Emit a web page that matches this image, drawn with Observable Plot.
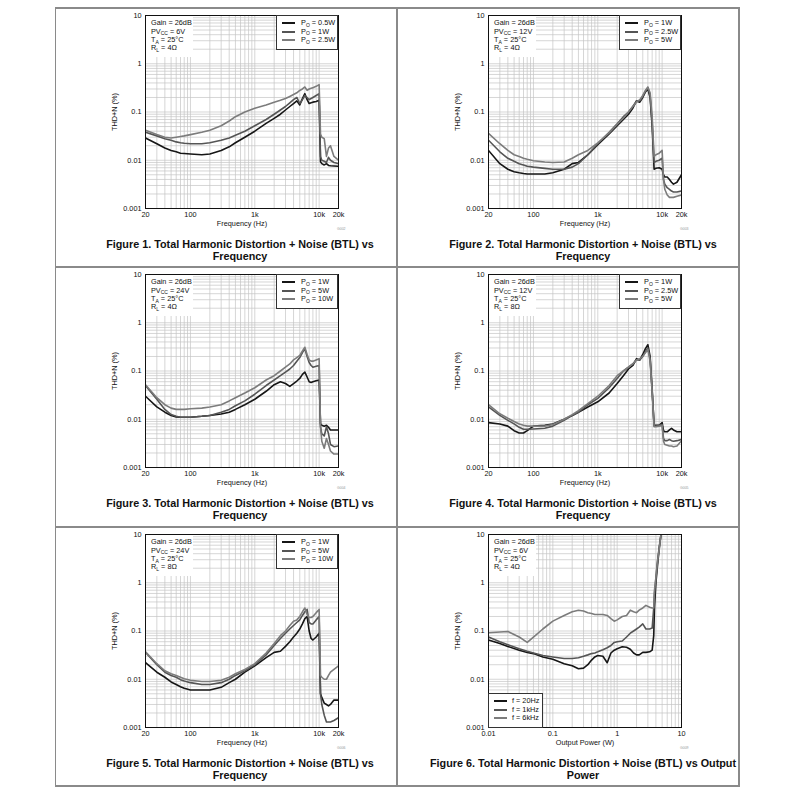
<!DOCTYPE html>
<html><head><meta charset="utf-8">
<script src="https://cdn.jsdelivr.net/npm/d3@7"></script>
<script src="https://cdn.jsdelivr.net/npm/@observablehq/plot@0.6"></script>
<style>
html,body{margin:0;padding:0;background:#fff;}
#root{position:relative;width:800px;height:800px;font-family:"Liberation Sans",Arial,Helvetica,sans-serif;color:#111;overflow:hidden}
.cell{position:absolute;width:343px;height:259px}
.cell svg{position:absolute;left:0;top:0}
.ann{position:absolute;background:#fff}
.leg{position:absolute;background:#fff;border:1px solid #333;box-sizing:border-box}
.row{position:absolute;white-space:nowrap;font-size:7.3px;line-height:8px;height:8px;color:#111}
.row sub{font-size:5px;vertical-align:baseline;position:relative;top:1.6px}
.sw{position:absolute;height:2px}
.cap{position:absolute;width:440px;text-align:center;font-weight:bold;font-size:10.8px;line-height:12px;white-space:nowrap;color:#111}
.code{position:absolute;font-size:3.5px;color:#999}
.bl{position:absolute;background:#8a8a8a}
</style>
</head><body><div id="root"></div>
<script>
// ---------- data ----------
const freqHz = [20, 30, 40, 50, 60, 70, 80, 100, 150, 200, 300, 400, 500, 700, 1000,
  1500, 2000, 2500, 3000, 3500, 4000, 4500, 5000, 5500, 6000, 6500, 7000, 7500, 8000, 9000, 10000,
  10500, 11000, 12000, 13000, 14000, 15000, 17000, 20000];
const powerW = [0.01, 0.015, 0.02, 0.03, 0.04, 0.05, 0.07, 0.1, 0.15, 0.2, 0.25, 0.3, 0.35, 0.4, 0.45, 0.5,
  0.6, 0.7, 0.8, 0.9, 1, 1.2, 1.4, 1.6, 1.8, 2, 2.2, 2.5, 2.8, 3.2, 3.5, 3.7, 3.8, 4, 4.2, 4.5, 4.8];

// Figure 1: PVcc 6V, RL 4 ohm
const fig1_0p5W = [0.029, 0.022, 0.018, 0.016, 0.015, 0.014, 0.0138, 0.0135,
  0.013, 0.0135, 0.016, 0.019, 0.023, 0.03, 0.04,
  0.058, 0.074, 0.09, 0.11, 0.13, 0.15, 0.17, 0.14, 0.19, 0.24,
  0.18, 0.15, 0.155, 0.16, 0.165, 0.175,
  0.0093, 0.0085, 0.008, 0.0085, 0.0078, 0.0077, 0.0076, 0.0075];
const fig1_1W = [0.038, 0.032, 0.028, 0.026, 0.024, 0.023, 0.0225, 0.022,
  0.022, 0.023, 0.026, 0.029, 0.033, 0.04, 0.052,
  0.07, 0.09, 0.11, 0.13, 0.155, 0.18, 0.2, 0.15, 0.18, 0.22,
  0.2, 0.18, 0.19, 0.2, 0.22, 0.24,
  0.012, 0.01, 0.0095, 0.009, 0.0115, 0.01, 0.009, 0.0085];
const fig1_2p5W = [0.042, 0.034, 0.03, 0.029, 0.03, 0.031, 0.032, 0.034,
  0.038, 0.042, 0.052, 0.065, 0.08, 0.1, 0.12,
  0.14, 0.16, 0.175, 0.19, 0.21, 0.23, 0.25, 0.28, 0.3, 0.33,
  0.28, 0.3, 0.31, 0.32, 0.34, 0.37,
  0.035, 0.03, 0.028, 0.012, 0.018, 0.02, 0.012, 0.01];

// Figure 2: PVcc 12V, RL 4 ohm
const fig2_1W = [0.016, 0.0085, 0.0065, 0.0058, 0.0055, 0.0053, 0.0052, 0.0052,
  0.0052, 0.0055, 0.0065, 0.0085, 0.009, 0.013, 0.021,
  0.035, 0.052, 0.07, 0.09, 0.12, 0.17, 0.16, 0.2, 0.26, 0.3,
  0.2, 0.05, 0.0065, 0.0068, 0.007, 0.0065,
  0.005, 0.0045, 0.0045, 0.004, 0.0035, 0.0032, 0.0035, 0.005];
const fig2_2p5W = [0.026, 0.015, 0.011, 0.0095, 0.0085, 0.008, 0.0075, 0.0072,
  0.0068, 0.0065, 0.0065, 0.0072, 0.0085, 0.013, 0.022,
  0.038, 0.057, 0.08, 0.1, 0.13, 0.17, 0.17, 0.21, 0.27, 0.32,
  0.22, 0.06, 0.009, 0.0095, 0.01, 0.011,
  0.004, 0.0032, 0.0027, 0.0025, 0.0023, 0.0022, 0.0022, 0.0023];
const fig2_5W = [0.036, 0.022, 0.016, 0.013, 0.012, 0.011, 0.0105, 0.0098,
  0.0092, 0.009, 0.0092, 0.011, 0.013, 0.016, 0.023,
  0.037, 0.055, 0.075, 0.1, 0.13, 0.16, 0.18, 0.22, 0.28, 0.33,
  0.25, 0.08, 0.012, 0.013, 0.014, 0.016,
  0.004, 0.0025, 0.0019, 0.0017, 0.0017, 0.0017, 0.0018, 0.0019];

// Figure 3: PVcc 24V, RL 4 ohm
const fig3_1W = [0.03, 0.018, 0.014, 0.012, 0.0112, 0.011, 0.011, 0.011,
  0.0115, 0.012, 0.0128, 0.014, 0.016, 0.02, 0.026,
  0.038, 0.052, 0.06, 0.055, 0.048, 0.055, 0.062, 0.07, 0.085, 0.095,
  0.075, 0.06, 0.058, 0.06, 0.063, 0.065,
  0.008, 0.0075, 0.0072, 0.0075, 0.0068, 0.006, 0.006, 0.006];
const fig3_5W = [0.05, 0.026, 0.016, 0.0125, 0.0115, 0.011, 0.011, 0.011,
  0.0115, 0.012, 0.014, 0.016, 0.019, 0.024, 0.033,
  0.05, 0.065, 0.08, 0.095, 0.11, 0.13, 0.16, 0.19, 0.24, 0.29,
  0.2, 0.15, 0.13, 0.12, 0.125, 0.13,
  0.007, 0.005, 0.0045, 0.007, 0.005, 0.003, 0.0027, 0.0028];
const fig3_10W = [0.052, 0.028, 0.02, 0.017, 0.016, 0.016, 0.016, 0.0165,
  0.017, 0.018, 0.02, 0.024, 0.028, 0.035, 0.045,
  0.065, 0.08, 0.1, 0.12, 0.14, 0.17, 0.19, 0.21, 0.26, 0.31,
  0.22, 0.17, 0.16, 0.16, 0.17, 0.18,
  0.007, 0.0035, 0.0025, 0.004, 0.003, 0.0022, 0.0019, 0.0019];

// Figure 4: PVcc 12V, RL 8 ohm
const fig4_1W = [0.0085, 0.008, 0.0072, 0.0058, 0.0052, 0.0052, 0.0058, 0.0072,
  0.0075, 0.008, 0.01, 0.012, 0.014, 0.018, 0.023,
  0.035, 0.055, 0.08, 0.11, 0.13, 0.18, 0.17, 0.22, 0.29, 0.35,
  0.2, 0.04, 0.0075, 0.0075, 0.0075, 0.0085,
  0.0058, 0.0055, 0.0055, 0.006, 0.0065, 0.006, 0.0055, 0.0055];
const fig4_2p5W = [0.018, 0.012, 0.0095, 0.008, 0.0068, 0.0062, 0.0062, 0.0063,
  0.0065, 0.0072, 0.0095, 0.012, 0.014, 0.02, 0.027,
  0.045, 0.07, 0.1, 0.12, 0.14, 0.17, 0.17, 0.2, 0.25, 0.3,
  0.18, 0.04, 0.0072, 0.0072, 0.0075, 0.0078,
  0.004, 0.0036, 0.0036, 0.0038, 0.0036, 0.0035, 0.0036, 0.0038];
const fig4_5W = [0.02, 0.013, 0.0105, 0.009, 0.008, 0.0075, 0.0072, 0.0072,
  0.0072, 0.0078, 0.01, 0.0125, 0.015, 0.021, 0.03,
  0.05, 0.08, 0.1, 0.12, 0.14, 0.17, 0.18, 0.2, 0.24, 0.28,
  0.16, 0.035, 0.007, 0.007, 0.0072, 0.0075,
  0.0035, 0.003, 0.0029, 0.0028, 0.0028, 0.0027, 0.0028, 0.0036];

// Figure 5: PVcc 24V, RL 8 ohm
const fig5_1W = [0.022, 0.014, 0.011, 0.0088, 0.0078, 0.007, 0.0065, 0.006,
  0.006, 0.006, 0.0068, 0.0085, 0.01, 0.014, 0.019,
  0.028, 0.036, 0.038, 0.048, 0.06, 0.075, 0.09, 0.11, 0.14, 0.18,
  0.2, 0.1, 0.07, 0.065, 0.075, 0.09,
  0.005, 0.0042, 0.0032, 0.003, 0.0028, 0.003, 0.0037, 0.0037];
const fig5_5W = [0.036, 0.02, 0.014, 0.012, 0.011, 0.0098, 0.0092, 0.0085,
  0.0078, 0.0078, 0.0085, 0.01, 0.012, 0.015, 0.02,
  0.032, 0.05, 0.07, 0.09, 0.11, 0.13, 0.15, 0.17, 0.21, 0.25,
  0.28, 0.15, 0.14, 0.14, 0.17, 0.2,
  0.005, 0.003, 0.0018, 0.0013, 0.0013, 0.0013, 0.0014, 0.0016];
const fig5_10W = [0.037, 0.021, 0.015, 0.013, 0.012, 0.011, 0.0102, 0.0095,
  0.009, 0.009, 0.0095, 0.011, 0.013, 0.016, 0.021,
  0.035, 0.055, 0.08, 0.1, 0.13, 0.16, 0.17, 0.2, 0.25, 0.3,
  0.22, 0.19, 0.19, 0.2, 0.24, 0.28,
  0.012, 0.011, 0.01, 0.01, 0.012, 0.014, 0.016, 0.019];

// Figure 6: THD+N vs output power, PVcc 6V, RL 4 ohm
const fig6_20Hz = [0.065, 0.055, 0.048, 0.04, 0.036, 0.034, 0.029,
  0.026, 0.021, 0.019, 0.0165, 0.017, 0.02, 0.025, 0.029, 0.031,
  0.03, 0.022, 0.035, 0.04, 0.043,
  0.047, 0.046, 0.042, 0.035, 0.032,
  0.032, 0.036, 0.036, 0.037, 0.04,
  0.08, 0.3, 1, 2, 5, 10];
const fig6_1kHz = [0.075, 0.06, 0.052, 0.043, 0.038, 0.035, 0.031,
  0.029, 0.027, 0.027, 0.028, 0.03, 0.032, 0.034, 0.035, 0.037,
  0.041, 0.045, 0.05, 0.058, 0.06,
  0.062, 0.075, 0.09, 0.1, 0.11,
  0.12, 0.14, 0.11, 0.11, 0.115,
  0.3, 0.6, 1.2, 2.5, 5.5, 10];
const fig6_6kHz = [0.092, 0.095, 0.098, 0.075, 0.058, 0.075, 0.11,
  0.16, 0.21, 0.25, 0.27, 0.26, 0.24, 0.23, 0.22, 0.22,
  0.22, 0.21, 0.18, 0.16, 0.17,
  0.2, 0.21, 0.27, 0.25, 0.24,
  0.27, 0.3, 0.34, 0.31, 0.3,
  0.3, 0.7, 1.3, 2.5, 5, 10];

// tick labels
const freqTicks = [20, 100, 1000, 10000, 20000];
const freqTickLabels = ["20", "100", "1k", "10k", "20k"];
const powerTicks = [0.01, 0.1, 1, 10];
const powerTickLabels = ["0.01", "0.1", "1", "10"];
const thdTicks = [0.001, 0.01, 0.1, 1, 10];
const thdTickLabels = ["0.001", "0.01", "0.1", "1", "10"];

// annotations and legends
const condPVcc = ["6V", "12V", "24V", "12V", "24V", "6V"];
const condRL = ["4Ω", "4Ω", "4Ω", "8Ω", "8Ω", "4Ω"];
const legendLabels = [
  ["0.5W", "1W", "2.5W"], ["1W", "2.5W", "5W"], ["1W", "5W", "10W"],
  ["1W", "2.5W", "5W"], ["1W", "5W", "10W"], ["f = 20Hz", "f = 1kHz", "f = 6kHz"]
];
const captions = [
  "Figure 1. Total Harmonic Distortion + Noise (BTL) vs|Frequency",
  "Figure 2. Total Harmonic Distortion + Noise (BTL) vs|Frequency",
  "Figure 3. Total Harmonic Distortion + Noise (BTL) vs|Frequency",
  "Figure 4. Total Harmonic Distortion + Noise (BTL) vs|Frequency",
  "Figure 5. Total Harmonic Distortion + Noise (BTL) vs|Frequency",
  "Figure 6. Total Harmonic Distortion + Noise (BTL) vs Output|Power"
];
const codes = ["G002", "G003", "G004", "G005", "G006", "G009"];

// ---------- drawing ----------
const FONT = '"Liberation Sans", Arial, Helvetica, sans-serif';
const COLORS = ["#161616", "#555555", "#7c7c7c"];
const root = document.getElementById("root");

function decadeGrid(lo, hi) {
  const out = [];
  for (let e = Math.floor(Math.log10(lo)); e <= Math.ceil(Math.log10(hi)); e++) {
    for (let k = 1; k <= 9; k++) {
      const v = +(k * Math.pow(10, e)).toPrecision(6);
      if (v >= lo && v <= hi) out.push(v);
    }
  }
  return out;
}
const thdGrid = decadeGrid(0.001, 10);

const panels = [
  {x: freqHz, series: [fig1_0p5W, fig1_1W, fig1_2p5W]},
  {x: freqHz, series: [fig2_1W, fig2_2p5W, fig2_5W]},
  {x: freqHz, series: [fig3_1W, fig3_5W, fig3_10W]},
  {x: freqHz, series: [fig4_1W, fig4_2p5W, fig4_5W]},
  {x: freqHz, series: [fig5_1W, fig5_5W, fig5_10W]},
  {x: powerW, series: [fig6_20Hz, fig6_1kHz, fig6_6kHz]}
];
const cellPos = [[54, 8], [397, 8], [54, 267], [397, 267], [54, 527], [397, 527]];

function el(tag, cls, parent) {
  const e = document.createElement(tag);
  if (cls) e.className = cls;
  parent.appendChild(e);
  return e;
}

panels.forEach((p, idx) => {
  const isPower = idx === 5;
  const [left, top] = cellPos[idx];
  const cell = el("div", "cell", root);
  cell.style.left = left + "px";
  cell.style.top = top + "px";

  const labels = legendLabels[idx];
  const rows = [];
  p.series.forEach((s, k) => p.x.forEach((x, i) => rows.push({x, y: s[i], k: labels[k]})));

  const xDomain = isPower ? [0.01, 10] : [20, 20000];
  const xTicks = isPower ? powerTicks : freqTicks;
  const xTickLabels = isPower ? powerTickLabels : freqTickLabels;
  const xGrid = decadeGrid(xDomain[0], xDomain[1]);

  const svg = Plot.plot({
    width: 343, height: 230,
    marginLeft: 91, marginRight: 59, marginTop: 7, marginBottom: 30,
    style: {fontFamily: FONT, fontSize: "7.3px", color: "#111", background: "transparent", overflow: "visible"},
    x: {type: "log", domain: xDomain},
    y: {type: "log", domain: [0.001, 10]},
    color: {domain: labels, range: COLORS},
    marks: [
      Plot.ruleX(xGrid, {stroke: "#c4c4c4", strokeWidth: 0.7}),
      Plot.ruleY(thdGrid, {stroke: "#c4c4c4", strokeWidth: 0.7}),
      Plot.line(rows, {x: "x", y: "y", z: "k", stroke: "k", strokeWidth: 1.6, clip: true}),
      Plot.frame({stroke: "#111", strokeWidth: 1}),
      Plot.axisX({anchor: "bottom", ticks: xTicks, tickSize: 0, tickPadding: 3, label: null,
        tickFormat: d => xTickLabels[xTicks.indexOf(d)]}),
      Plot.axisY({anchor: "left", ticks: thdTicks, tickSize: 0, tickPadding: 4, label: null,
        tickFormat: d => thdTickLabels[thdTicks.indexOf(d)]}),
      Plot.text([isPower ? "Output Power (W)" : "Frequency (Hz)"],
        {frameAnchor: "bottom", dy: 15, lineAnchor: "middle", textAnchor: "middle", text: d => d}),
      Plot.text(["THD+N (%)"],
        {frameAnchor: "left", dx: -31, rotate: -90, lineAnchor: "middle", textAnchor: "middle", text: d => d})
    ]
  });
  cell.appendChild(svg);

  // conditions annotation (white box over grid)
  const ann = el("div", "ann", cell);
  Object.assign(ann.style, {left: "92px", top: "8px", width: "47px", height: "41px"});
  const annLines = [
    "Gain = 26dB",
    "PV<sub>CC</sub> = " + condPVcc[idx],
    "T<sub>A</sub> = 25°C",
    "R<sub>L</sub> = " + condRL[idx]
  ];
  annLines.forEach((t, i) => {
    const r = el("div", "row", cell);
    r.innerHTML = t;
    r.style.left = "97px";
    r.style.top = (15.3 + i * 8.33 - 4) + "px";
  });

  // legend
  const leg = el("div", "leg", cell);
  let lx, ly, lw;
  if (isPower) { lx = 91; ly = 166; lw = 55; } else { lx = 222; ly = 7; lw = 62; }
  Object.assign(leg.style, {left: lx + "px", top: ly + "px", width: lw + "px", height: "34.5px"});
  labels.forEach((t, i) => {
    const yc = ly + 8.3 + i * 8.33;
    const sw = el("div", "sw", cell);
    Object.assign(sw.style, {left: (lx + 6) + "px", top: Math.round(yc - 1) + "px", width: "13px", background: COLORS[i]});
    const r = el("div", "row", cell);
    r.innerHTML = isPower ? t : "P<sub>O</sub> = " + t;
    r.style.left = (lx + (isPower ? 24 : 25)) + "px";
    r.style.top = (yc - 4) + "px";
  });

  // code
  const code = el("div", "code", cell);
  code.textContent = codes[idx];
  Object.assign(code.style, {left: "283px", top: "219px"});

  // caption
  const cap = el("div", "cap", cell);
  cap.innerHTML = captions[idx].split("|").join("<br>");
  Object.assign(cap.style, {left: (186 - 220) + "px", top: "230px"});
});

// borders
function line(l, t, w, h) {
  const d = el("div", "bl", root);
  Object.assign(d.style, {left: l + "px", top: t + "px", width: w + "px", height: h + "px"});
}
line(54.5, 7, 685, 1.5);
line(54.5, 785, 685, 1.5);
line(54.5, 7, 1.5, 779.5);
line(738, 7, 1.5, 779.5);
line(396.3, 7, 1.5, 779.5);
line(54.5, 266.3, 685, 1.5);
line(54.5, 526.3, 685, 1.5);
</script>
</body></html>
